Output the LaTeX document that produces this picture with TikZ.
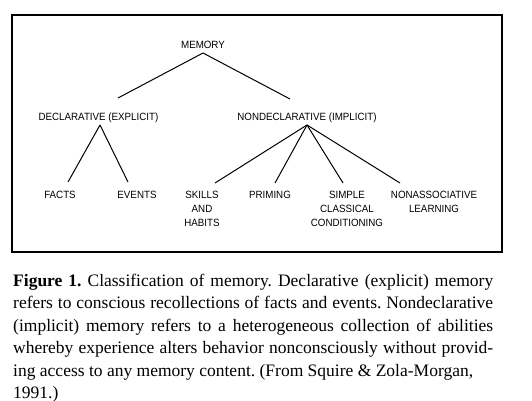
\documentclass[tikz,border=0pt]{standalone}
\usepackage{fontspec}
\setmainfont{Liberation Serif}
\newfontfamily\lblfont[FakeStretch=0.93]{Liberation Sans}
\usetikzlibrary{calc}

\newlength{\du}
\setlength{\du}{1pt}

\tikzset{
  lbl/.style={font=\lblfont\fontsize{10.5}{14}\selectfont, inner sep=0pt, align=center},
  edge/.style={line width=1\du, draw=black},
  frame/.style={line width=1.4\du, draw=black},
}

\begin{document}
\frenchspacing
\begin{tikzpicture}
\pgftransformxscale{1.000000}
\pgftransformyscale{-1.000000}
\fill[white] (0\du,0\du) rectangle (532\du,401\du);
\useasboundingbox (0\du,0\du) rectangle (532\du,401\du);
\draw[frame] (12\du,15\du) rectangle (502\du,252\du);
% tree labels
\node[lbl] (memory) at (203\du,45\du){MEMORY};
\node[lbl] (decl) at (98.5\du,118\du){DECLARATIVE (EXPLICIT)};
\node[lbl] (nondecl) at (307\du,118\du){NONDECLARATIVE (IMPLICIT)};
\node[lbl] (facts) at (60\du,195\du){FACTS};
\node[lbl] (events) at (137\du,195\du){EVENTS};
\node[lbl] (skills) at (202\du,209\du){SKILLS\\AND\\HABITS};
\node[lbl] (priming) at (270\du,195\du){PRIMING};
\node[lbl] (simple) at (347\du,209\du){SIMPLE\\CLASSICAL\\CONDITIONING};
\node[lbl] (nonassoc) at (434\du,202\du){NONASSOCIATIVE\\LEARNING};
% branches
\draw[edge] ($(memory)+(0\du,8\du)$) -- ($(decl)+(19.5\du,-20\du)$);
\draw[edge] ($(memory)+(0\du,8\du)$) -- ($(nondecl)+(-17\du,-19\du)$);
\draw[edge] ($(decl)+(1.5\du,7\du)$) -- ($(facts)+(8\du,-13\du)$);
\draw[edge] ($(decl)+(1.5\du,7\du)$) -- ($(events)+(-9\du,-13\du)$);
\draw[edge] ($(nondecl)+(0\du,7\du)$) -- ($(skills)+(13\du,-26\du)$);
\draw[edge] ($(nondecl)+(0\du,7\du)$) -- ($(priming)+(5\du,-12\du)$);
\draw[edge] ($(nondecl)+(0\du,7\du)$) -- ($(simple)+(-4\du,-26\du)$);
\draw[edge] ($(nondecl)+(0\du,7\du)$) -- ($(nonassoc)+(-34\du,-19\du)$);
% caption
\node[anchor=north west, inner sep=0pt, text width=480\du, align=justify,
  font=\fontsize{17.5}{22.4}\selectfont] (caption) at (13\du,274\du)
  {\textbf{Figure 1.}\ Classification of memory. Declarative (explicit) memory\linebreak
   refers to conscious recollections of facts and events. Nondeclarative\linebreak
   (implicit) memory refers to a heterogeneous collection of abilities\linebreak
   whereby experience alters behavior nonconsciously without provid-\linebreak
   ing access to any memory content. (From Squire \& Zola-Morgan,\newline
   1991.)};
\end{tikzpicture}
\end{document}
